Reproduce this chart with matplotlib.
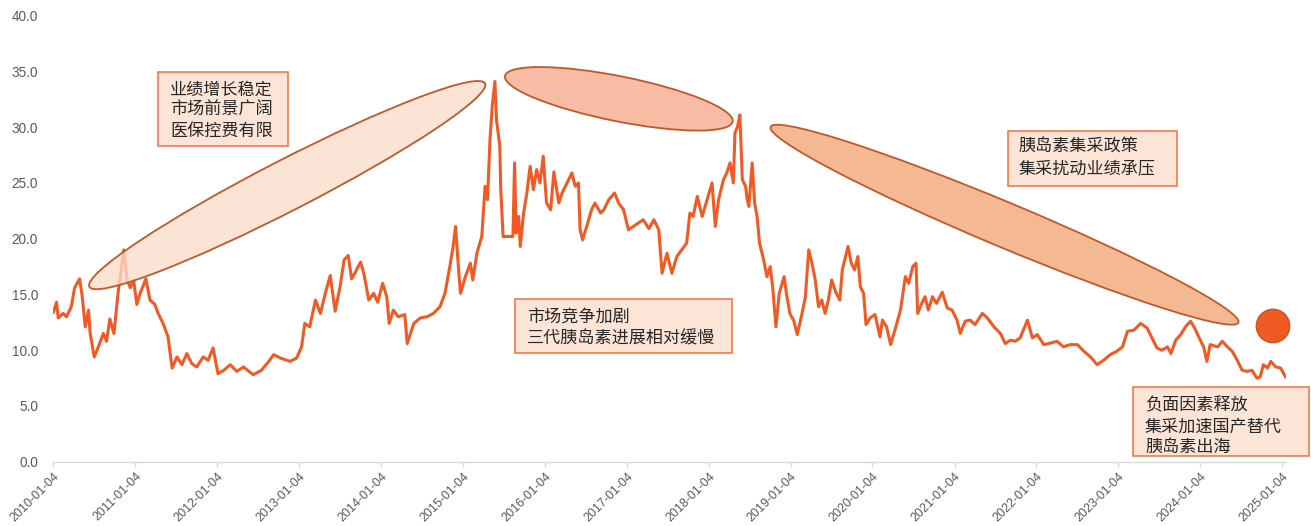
import numpy as np
import pandas as pd
import matplotlib
matplotlib.use("Agg")
import matplotlib.pyplot as plt
from matplotlib.patches import Ellipse, Rectangle, Circle
from matplotlib.colors import to_rgba

# ---- data: valuation multiple (PE, TTM) by date, decimal-year positions ----
t_year = [
    2010.00, 2010.04, 2010.06, 2010.12, 2010.16, 2010.22, 2010.26, 2010.32, 2010.35, 2010.39,
    2010.43, 2010.45, 2010.50, 2010.55, 2010.61, 2010.65, 2010.69, 2010.74, 2010.79, 2010.86,
    2010.90, 2010.94, 2010.98, 2011.02, 2011.06, 2011.13, 2011.18, 2011.24, 2011.28, 2011.34,
    2011.40, 2011.45, 2011.51, 2011.57, 2011.63, 2011.69, 2011.75, 2011.83, 2011.89, 2011.95,
    2012.01, 2012.08, 2012.16, 2012.24, 2012.32, 2012.44, 2012.54, 2012.63, 2012.69, 2012.77,
    2012.89, 2012.97, 2013.03, 2013.07, 2013.13, 2013.20, 2013.26, 2013.32, 2013.38, 2013.44,
    2013.50, 2013.55, 2013.60, 2013.64, 2013.68, 2013.75, 2013.79, 2013.85, 2013.91, 2013.96,
    2014.02, 2014.07, 2014.10, 2014.15, 2014.21, 2014.29, 2014.32, 2014.40, 2014.48, 2014.56,
    2014.64, 2014.72, 2014.78, 2014.84, 2014.88, 2014.91, 2014.95, 2014.97, 2015.03, 2015.09,
    2015.12, 2015.17, 2015.23, 2015.27, 2015.30, 2015.33, 2015.36, 2015.39, 2015.41, 2015.45,
    2015.46, 2015.49, 2015.52, 2015.61, 2015.63, 2015.65, 2015.68, 2015.70, 2015.74, 2015.78,
    2015.82, 2015.86, 2015.90, 2015.94, 2015.98, 2016.02, 2016.07, 2016.11, 2016.17, 2016.21,
    2016.27, 2016.33, 2016.37, 2016.41, 2016.43, 2016.46, 2016.51, 2016.57, 2016.61, 2016.68,
    2016.72, 2016.78, 2016.85, 2016.90, 2016.96, 2017.02, 2017.08, 2017.14, 2017.20, 2017.27,
    2017.33, 2017.39, 2017.43, 2017.49, 2017.55, 2017.61, 2017.67, 2017.73, 2017.77, 2017.81,
    2017.86, 2017.92, 2017.98, 2018.04, 2018.08, 2018.12, 2018.18, 2018.22, 2018.26, 2018.30,
    2018.32, 2018.35, 2018.38, 2018.41, 2018.45, 2018.47, 2018.49, 2018.53, 2018.56, 2018.59,
    2018.62, 2018.67, 2018.71, 2018.75, 2018.78, 2018.82, 2018.86, 2018.92, 2018.95, 2018.99,
    2019.04, 2019.08, 2019.13, 2019.18, 2019.22, 2019.26, 2019.30, 2019.34, 2019.38, 2019.42,
    2019.46, 2019.50, 2019.55, 2019.60, 2019.63, 2019.67, 2019.70, 2019.74, 2019.78, 2019.82,
    2019.85, 2019.89, 2019.92, 2019.97, 2020.03, 2020.09, 2020.12, 2020.17, 2020.22, 2020.28,
    2020.34, 2020.40, 2020.44, 2020.49, 2020.53, 2020.55, 2020.60, 2020.64, 2020.68, 2020.73,
    2020.78, 2020.85, 2020.91, 2020.97, 2021.03, 2021.07, 2021.13, 2021.19, 2021.25, 2021.34,
    2021.40, 2021.48, 2021.56, 2021.62, 2021.68, 2021.74, 2021.80, 2021.89, 2021.95, 2022.01,
    2022.09, 2022.15, 2022.25, 2022.33, 2022.41, 2022.50, 2022.58, 2022.66, 2022.74, 2022.82,
    2022.90, 2022.98, 2023.05, 2023.11, 2023.19, 2023.27, 2023.35, 2023.41, 2023.47, 2023.53,
    2023.60, 2023.64, 2023.70, 2023.76, 2023.82, 2023.88, 2023.93, 2023.98, 2024.04, 2024.08,
    2024.12, 2024.21, 2024.27, 2024.33, 2024.39, 2024.45, 2024.51, 2024.57, 2024.63, 2024.69,
    2024.73, 2024.77, 2024.82, 2024.86, 2024.92, 2024.98, 2025.04,
]
pe = [
    13.4, 14.3, 12.9, 13.3, 13.0, 13.9, 15.6, 16.4, 15.0, 12.1,
    13.6, 11.5, 9.4, 10.3, 11.5, 10.8, 12.8, 11.5, 15.1, 19.0,
    16.3, 15.6, 16.3, 14.1, 15.1, 16.4, 14.5, 14.1, 13.3, 12.4,
    11.2, 8.4, 9.4, 8.7, 9.7, 8.8, 8.5, 9.4, 9.1, 10.2,
    7.9, 8.2, 8.7, 8.1, 8.5, 7.8, 8.2, 9.0, 9.6, 9.3,
    9.0, 9.3, 10.3, 12.4, 12.1, 14.5, 13.3, 15.1, 16.7, 13.5,
    15.7, 18.1, 18.5, 16.4, 16.9, 17.9, 16.9, 14.5, 15.1, 14.3,
    16.0, 14.8, 12.4, 13.6, 13.0, 13.2, 10.6, 12.4, 12.9, 13.0,
    13.3, 13.9, 15.1, 17.5, 19.3, 21.1, 16.9, 15.1, 16.6, 17.8,
    16.3, 18.7, 20.2, 24.7, 23.5, 28.9, 32.1, 34.1, 30.6, 28.3,
    24.7, 20.2, 20.2, 20.2, 26.8, 20.5, 22.0, 19.3, 22.3, 24.1,
    26.5, 24.4, 26.2, 25.0, 27.4, 23.2, 22.6, 26.0, 23.2, 24.1,
    25.0, 25.9, 24.7, 25.0, 20.8, 19.9, 21.1, 22.6, 23.2, 22.3,
    22.6, 23.5, 24.1, 23.2, 22.6, 20.8, 21.1, 21.4, 21.7, 20.9,
    21.7, 20.8, 16.9, 18.7, 16.9, 18.4, 19.0, 19.6, 22.3, 22.0,
    23.8, 22.0, 23.5, 25.0, 21.1, 23.5, 25.3, 25.9, 26.8, 25.0,
    29.5, 30.0, 31.1, 25.3, 24.7, 23.5, 22.9, 26.8, 23.2, 22.0,
    19.6, 18.1, 16.6, 17.5, 15.7, 12.1, 15.1, 16.6, 15.0, 13.3,
    12.6, 11.4, 13.0, 14.8, 19.0, 17.8, 16.3, 13.9, 14.5, 13.3,
    14.5, 16.3, 15.2, 14.5, 17.2, 18.4, 19.3, 17.8, 17.2, 18.4,
    15.7, 15.1, 12.3, 12.9, 13.2, 11.2, 12.7, 12.1, 10.5, 12.0,
    13.6, 16.6, 16.0, 17.5, 17.8, 13.3, 14.2, 14.8, 13.6, 14.8,
    14.2, 15.2, 13.8, 13.6, 12.7, 11.5, 12.6, 12.7, 12.3, 13.3,
    12.9, 12.1, 11.5, 10.6, 10.9, 10.8, 11.1, 12.7, 11.1, 11.4,
    10.5, 10.6, 10.8, 10.3, 10.5, 10.5, 9.9, 9.4, 8.7, 9.1,
    9.6, 9.9, 10.3, 11.7, 11.8, 12.4, 12.0, 11.1, 10.2, 10.0,
    10.3, 9.7, 10.9, 11.4, 12.1, 12.6, 12.0, 11.2, 10.3, 9.0,
    10.5, 10.3, 10.8, 10.3, 9.9, 9.1, 8.2, 8.1, 8.2, 7.5,
    7.6, 8.7, 8.4, 9.0, 8.5, 8.4, 7.6,
]
tick_labels = ["2010-01-04", "2011-01-04", "2012-01-04", "2013-01-04", "2014-01-04",
               "2015-01-04", "2016-01-04", "2017-01-04", "2018-01-04", "2019-01-04",
               "2020-01-04", "2021-01-04", "2022-01-04", "2023-01-04", "2024-01-04",
               "2025-01-04"]
y_ticks = [0, 5, 10, 15, 20, 25, 30, 35, 40]

notes = [
    ["业绩增长稳定", "市场前景广阔", "医保控费有限"],
    ["市场竞争加剧", "三代胰岛素进展相对缓慢"],
    ["胰岛素集采政策", "集采扰动业绩承压"],
    ["负面因素释放", "集采加速国产替代", "胰岛素出海"],
]

# ---- figure ----
W, H = 1311, 526
fig = plt.figure(figsize=(W / 100, H / 100), dpi=100)
fig.patch.set_facecolor("white")

x0_px, x1_px, y0_px, y1_px = 53.3, 1285.9, 461.7, 15.7
ax = fig.add_axes([x0_px / W, (H - y0_px) / H, (x1_px - x0_px) / W, (y0_px - y1_px) / H])

base = pd.Timestamp("2010-01-04")
dates = base + pd.to_timedelta((np.array(t_year) - 2010.0) * 365.25, unit="D")
ax.plot(dates, pe, color="#F15A24", lw=2.2, solid_joinstyle="round", zorder=2)

ax.set_xlim(base, pd.Timestamp("2025-01-20"))
ax.set_ylim(0, 40)
ax.set_yticks(y_ticks)
ax.set_yticklabels([f"{v:.1f}" for v in y_ticks])
ax.set_xticks(pd.to_datetime(tick_labels))
ax.set_xticklabels(tick_labels)

for s in ("left", "right", "top"):
    ax.spines[s].set_visible(False)
ax.spines["bottom"].set_color("#D9D9D9")
ax.spines["bottom"].set_linewidth(1.0)
ax.tick_params(axis="y", length=0, pad=11, labelsize=9.8, labelcolor="#595959")
ax.tick_params(axis="x", length=3.5, width=1.0, color="#D9D9D9", pad=2.5,
               labelsize=9.0, labelcolor="#595959")
for lab in ax.get_xticklabels() + ax.get_yticklabels():
    lab.set_fontfamily("Liberation Sans")
plt.setp(ax.get_xticklabels(), rotation=45, ha="right", rotation_mode="anchor")

# ---- annotation shapes (figure pixel space, equal aspect) ----
T = fig.dpi_scale_trans


def pt(x, y):
    return (x / 100.0, (H - y) / 100.0)


edge_col = "#C0582A"
ellipses = [
    ((287.2, 185.1), 444.8, 50.5, 27.2, to_rgba("#FBDCCB", 0.78)),
    ((618.8, 98.8), 232.2, 45.0, -11.35, to_rgba("#F8BCA5", 1.0)),
    ((1004.5, 224.7), 507.0, 44.5, -22.7, to_rgba("#F4B992", 1.0)),
]
for (c, w, h, ang, fc) in ellipses:
    fig.add_artist(Ellipse(pt(*c), w / 100.0, h / 100.0, angle=ang, transform=T,
                           facecolor=fc, edgecolor=edge_col, lw=1.3, zorder=3))

fig.add_artist(Circle(pt(1273, 326), 16.7 / 100.0, transform=T,
                      facecolor="#F05A22", edgecolor=edge_col, lw=1.0, zorder=3))

boxes = [
    ((158.3, 72.3, 288.3, 146.0), 170.0, [89.3, 110.0, 130.7]),
    ((515.0, 299.3, 731.7, 352.7), 526.7, [316.7, 338.3]),
    ((1008.3, 130.7, 1176.7, 186.0), 1018.3, [146.7, 168.3]),
    ((1133.3, 387.3, 1309.3, 456.0), 1145.0, [405.0, 426.7, 446.7]),
]
for (box, tx, ys), lines in zip(boxes, notes):
    l, t, r, b = box
    fig.add_artist(Rectangle(pt(l, b), (r - l) / 100.0, (b - t) / 100.0, transform=T,
                             facecolor="#FCE4D6", edgecolor="#F07040", lw=1.1, zorder=4))
    for line, yy in zip(lines, ys):
        fig.text(*pt(tx, yy), line, transform=T, ha="left", va="center",
                 fontsize=12.3, color="#262626",
                 family=["Noto Sans CJK SC", "DejaVu Sans"], zorder=5)

fig.savefig("out.png", dpi=100, facecolor="white")
